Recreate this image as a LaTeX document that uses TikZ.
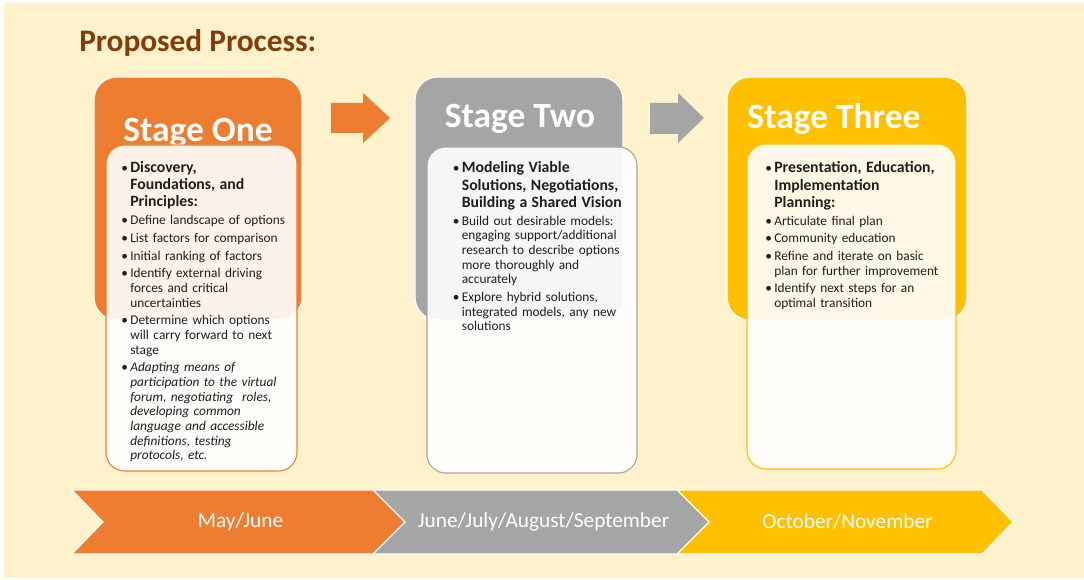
\documentclass[tikz,border=0pt]{standalone}
\usepackage{fontspec}
\setmainfont{Carlito}
\definecolor{cream}{HTML}{FFF2CC}
\definecolor{sorange}{HTML}{ED7D31}
\definecolor{sgray}{HTML}{A5A5A5}
\definecolor{syellow}{HTML}{FFC000}
\definecolor{sbrown}{HTML}{843C0C}
\definecolor{txt}{HTML}{1E1E1E}
\newlength\bhang
\setlength\bhang{6.8pt}
\newcommand\bitem[1]{\par\vspace{2.3pt}\hangindent=\bhang\hangafter=1\noindent\makebox[\bhang][l]{\textbullet}#1}
\newcommand\hitem[1]{{\fontsize{11.8}{12.9}\selectfont\bfseries\hangindent=\bhang\hangafter=1\noindent\makebox[\bhang][l]{\fontsize{10}{11}\mdseries\textbullet}#1\par}}
\tikzset{
  stagebox/.style={rectangle, rounded corners=17pt, draw=white, line width=0.9pt, inner sep=0pt},
  panel/.style={rectangle, rounded corners=14pt, fill=white, fill opacity=0.9, line width=0.8pt, inner sep=0pt},
  stitle/.style={anchor=base, text=white, font=\fontsize{26.6}{30}\selectfont\bfseries, inner sep=0pt},
  ptext/.style={anchor=base west, inner sep=0pt, text width=160pt, align=left, text=txt, font=\fontsize{10}{11}\selectfont},
  chev/.style={draw=white, line width=0.8pt},
  chevtext/.style={text=white, font=\fontsize{16}{18}\selectfont, inner sep=0pt}
}
\begin{document}
\begin{tikzpicture}[x=0.75pt,y=-0.75pt]
\useasboundingbox (0,0) rectangle (1084,580);
\fill[white] (0,0) rectangle (1084,580);
\fill[cream] (4,3) rectangle (1084,578);

% title
\node[anchor=base west, inner sep=0pt, text=sbrown, font=\fontsize{23.5}{28}\selectfont\bfseries] (title) at (79,52) {Proposed Process:};

% stage boxes
\node[stagebox, fill=sorange, minimum width=156pt, minimum height=182.25pt] (s1) at (198,198.5) {};
\node[stagebox, fill=sgray, minimum width=156pt, minimum height=182.25pt] (s2) at (519,198.5) {};
\node[stagebox, fill=syellow, minimum width=180pt, minimum height=182.25pt] (s3) at (847,198.5) {};

\node[stitle] (h1) at (198,142) {Stage One};
\node[stitle] (h2) at (520,128) {Stage Two};
\node[stitle] (h3) at (834,129) {Stage Three};

% block arrows
\fill[sorange] (331,103) -- (363,103) -- (363,93) -- (390,118) -- (363,143) -- (363,133) -- (331,133) -- cycle;
\fill[sgray] (650,103) -- (678,103) -- (678,93) -- (704,118) -- (678,143) -- (678,134) -- (650,134) -- cycle;

% panels
\node[panel, draw=sorange, minimum width=143.25pt, minimum height=244.5pt] (p1) at (201.5,308) {};
\node[panel, draw=sgray, minimum width=157.5pt, minimum height=244.5pt] (p2) at (532,310) {};
\node[panel, draw=syellow, minimum width=156.75pt, minimum height=243.75pt] (p3) at (851.5,306.5) {};

% panel texts
\node[ptext] (t1) at (121,172.5) {%
\hitem{Discovery,\newline Foundations, and\newline Principles:}%
\bitem{Define landscape of options}%
\bitem{List factors for comparison}%
\bitem{Initial ranking of factors}%
\bitem{Identify external driving\newline forces and critical\newline uncertainties}%
\bitem{Determine which options\newline will carry forward to next\newline stage}%
\bitem{\itshape Adapting means of\newline participation to the virtual\newline forum, negotiating\ \ roles,\newline developing common\newline language and accessible\newline definitions, testing\newline protocols, etc.}\par};

\node[ptext] (t2) at (452.5,173) {%
\hitem{Modeling Viable\newline Solutions, Negotiations,\newline Building a Shared Vision}%
\bitem{Build out desirable models:\newline engaging support/additional\newline research to describe options\newline more thoroughly and\newline accurately}%
\bitem{Explore hybrid solutions,\newline integrated models, any new\newline solutions}\par};

\node[ptext] (t3) at (765,173) {%
\hitem{Presentation, Education,\newline Implementation\newline Planning:}%
\bitem{Articulate final plan}%
\bitem{Community education}%
\bitem{Refine and iterate on basic\newline plan for further improvement}%
\bitem{Identify next steps for an\newline optimal transition}\par};

% timeline chevrons
\filldraw[chev, fill=sorange] (72,490) -- (373,490) -- (405,522) -- (373,554) -- (72,554) -- (103,522) -- cycle;
\filldraw[chev, fill=sgray] (373,490) -- (677,490) -- (709,522) -- (677,554) -- (373,554) -- (405,522) -- cycle;
\filldraw[chev, fill=syellow] (677,490) -- (982,490) -- (1013,522) -- (982,554) -- (677,554) -- (709,522) -- cycle;

\node[chevtext] (m1) at (240.5,522) {May/June};
\node[chevtext] (m2) at (543.5,522) {June/July/August/September};
\node[chevtext] (m3) at (847.5,522) {October/November};
\end{tikzpicture}
\end{document}
